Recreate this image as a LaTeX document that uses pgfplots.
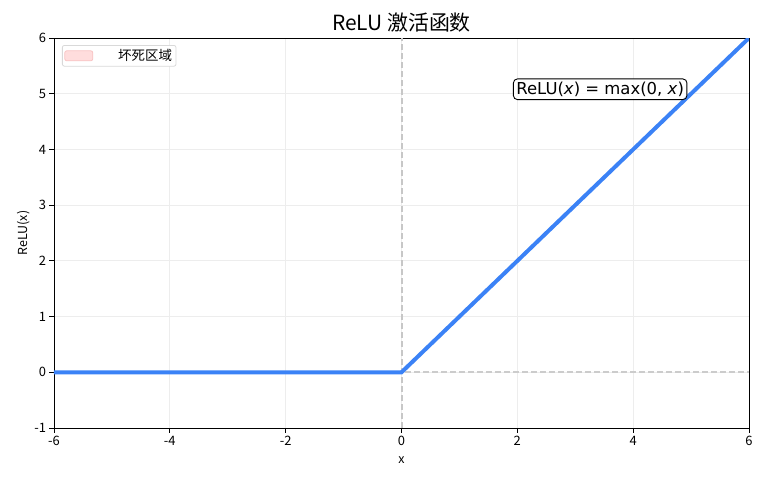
\documentclass[border=0pt]{standalone}
\usepackage{pgfplots}
\pgfplotsset{compat=1.18}
\usepackage{fontspec}
\setmainfont{Noto Sans CJK SC}
\newfontfamily\dejavu{DejaVu Sans}
\definecolor{relublue}{HTML}{3B82F6}
\definecolor{deadred}{HTML}{FFDDDD}
\definecolor{deadedge}{HTML}{F8C4C4}
\begin{document}
\begin{tikzpicture}
\begin{axis}[
  scale only axis,
  width=695bp, height=390bp,
  xmin=-6, xmax=6, ymin=-1, ymax=6,
  xtick={-6,-4,...,6}, ytick={-1,0,...,6},
  xticklabels={-6,-4,-2,0,2,4,6},
  yticklabels={-1,0,1,2,3,4,5,6},
  tick style={black, line width=0.8pt},
  tick align=outside,
  major tick length=4.5bp,
  xtick pos=bottom, ytick pos=left,
  axis line style={black, line width=0.85pt},
  grid=major,
  major grid style={black!7, line width=0.8pt},
  tick label style={font=\fontsize{13}{15}\selectfont},
  xlabel={x}, ylabel={ReLU(x)},
  xlabel style={font=\fontsize{12.5}{14}\selectfont, yshift=-4bp},
  ylabel style={font=\fontsize{12.5}{14}\selectfont, yshift=-2bp},
  title={ReLU 激活函数},
  title style={font=\fontsize{21}{24}\selectfont, yshift=-4bp},
  legend style={at={(0.0115,0.982)}, anchor=north west, draw=black!15, rounded corners=2pt, font=\fontsize{13.5}{15}\selectfont, inner sep=2bp, line width=0.8pt},
  legend image code/.code={\fill[deadred, draw=deadedge] (0bp,-5bp) rectangle (28bp,5bp);},
  legend cell align=left,
  clip=true,
]
\addlegendimage{}
\addlegendentry{\hspace*{23bp}坏死区域}
\addplot[forget plot, black!22, dash pattern=on 6bp off 3bp, line width=2pt] coordinates {(0.01,-1) (0.01,6)};
\addplot[forget plot, black!20, dash pattern=on 6bp off 3bp, line width=1.8pt] coordinates {(-6,0) (6,0)};
\addplot[forget plot, relublue, line width=4pt] coordinates {(-6,0) (0,0) (6,6)};
\node[draw=black, fill=white, fill opacity=0.8, text opacity=1, rounded corners=4pt, line width=0.9pt, inner sep=3bp, font=\dejavu\fontsize{16.5}{19}\selectfont] at (axis cs:3.43,5.08) {ReLU(\textit{x}) = max(0, \textit{x})};
\end{axis}
\useasboundingbox (-54bp,-52bp) rectangle (714bp,428bp);
\end{tikzpicture}
\end{document}
